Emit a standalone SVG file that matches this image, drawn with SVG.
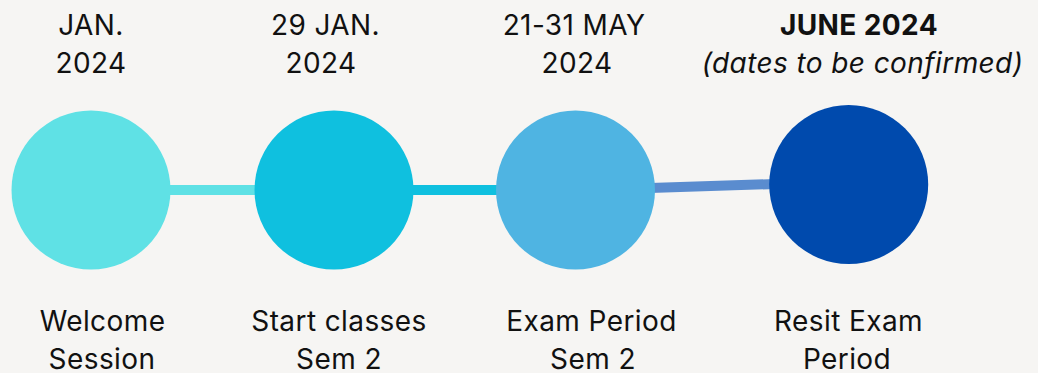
<svg xmlns="http://www.w3.org/2000/svg" width="1038" height="373" viewBox="0 0 1038 373">
<style>
text{font-family:Inter,"Liberation Sans",sans-serif;font-size:28px;letter-spacing:0.4px;fill:#111;text-anchor:middle}
.b{font-weight:700}
.i{font-style:italic}
</style>
<rect width="1038" height="373" fill="#f6f5f3"/>
<g id="connectors" stroke-width="10" fill="none">
<line x1="160" y1="190" x2="260" y2="190" stroke="#5fe1e5"/>
<line x1="405" y1="190" x2="505" y2="190" stroke="#0fc0df"/>
<line x1="650" y1="188" x2="775" y2="184" stroke="#5a8ccf"/>
</g>
<g id="node1">
<circle cx="91" cy="190" r="79.5" fill="#5fe1e5"/>
<text x="91" y="35">JAN.</text>
<text x="91" y="73">2024</text>
<text x="102.5" y="331">Welcome</text>
<text x="102" y="369">Session</text>
</g>
<g id="node2">
<circle cx="334" cy="190" r="79.5" fill="#0fc0df"/>
<text x="325.5" y="35">29 JAN.</text>
<text x="321" y="73">2024</text>
<text x="339" y="331">Start classes</text>
<text x="339" y="369">Sem 2</text>
</g>
<g id="node3">
<circle cx="575.5" cy="190" r="79.5" fill="#4fb4e2"/>
<text x="574" y="35">21-31 MAY</text>
<text x="577" y="73">2024</text>
<text x="591.5" y="331">Exam Period</text>
<text x="593" y="369">Sem 2</text>
</g>
<g id="node4">
<circle cx="848.7" cy="184.5" r="79.5" fill="#004aad"/>
<text class="b" x="859" y="35">JUNE 2024</text>
<text class="i" x="862.5" y="73">(dates to be confirmed)</text>
<text x="848.5" y="331">Resit Exam</text>
<text x="847" y="369">Period</text>
</g>
</svg>
